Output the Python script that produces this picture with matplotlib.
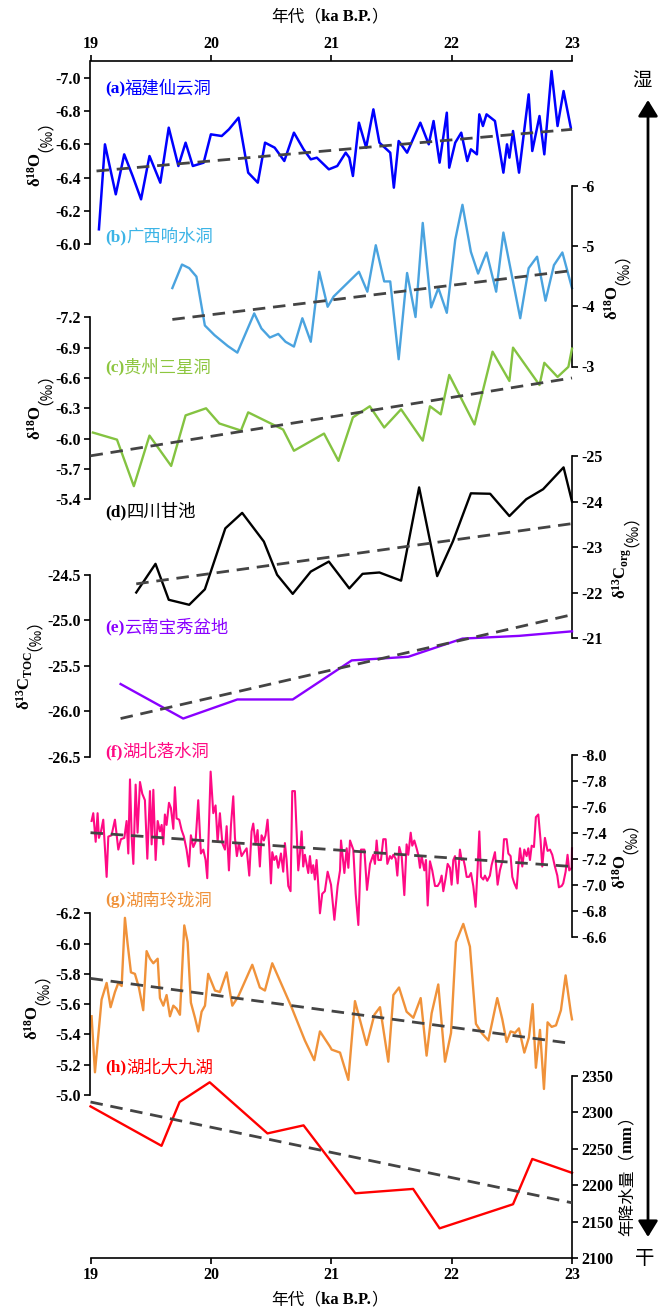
import matplotlib.pyplot as plt
from matplotlib.patches import FancyArrowPatch

# ---------------- data ----------------
age_ticks = [19, 20, 21, 22, 23]

# (a) Fujian Xianyun cave, d18O
a_age = [19.07, 19.12, 19.21, 19.28, 19.35, 19.42, 19.49, 19.58, 19.65, 19.73,
         19.79, 19.85, 19.94, 20.00, 20.09, 20.15, 20.23, 20.31, 20.39, 20.45,
         20.53, 20.61, 20.69, 20.77, 20.83, 20.88, 20.98, 21.05, 21.12, 21.15,
         21.18, 21.23, 21.29, 21.35, 21.40, 21.49, 21.52, 21.56, 21.63, 21.74,
         21.81, 21.85, 21.90, 21.96, 21.98, 22.03, 22.08, 22.13, 22.16, 22.21,
         22.23, 22.26, 22.29, 22.36, 22.43, 22.46, 22.48, 22.51, 22.56, 22.64,
         22.67, 22.73, 22.77, 22.83, 22.88, 22.93, 22.99]
a_val = [-6.09, -6.60, -6.30, -6.54, -6.41, -6.27, -6.53, -6.37, -6.70, -6.47,
         -6.61, -6.47, -6.49, -6.66, -6.65, -6.69, -6.76, -6.43, -6.37, -6.61,
         -6.58, -6.50, -6.67, -6.57, -6.51, -6.52, -6.45, -6.47, -6.55, -6.52,
         -6.41, -6.73, -6.58, -6.81, -6.61, -6.55, -6.34, -6.62, -6.55, -6.73,
         -6.60, -6.74, -6.49, -6.79, -6.46, -6.61, -6.67, -6.50, -6.57, -6.54,
         -6.78, -6.71, -6.78, -6.74, -6.43, -6.60, -6.52, -6.68, -6.43, -6.90,
         -6.56, -6.77, -6.54, -7.04, -6.71, -6.92, -6.70]
a_trend_age = [19.05, 23.0]
a_trend = [-6.44, -6.69]

# (b) Guangxi Xiangshui cave, d18O
b_age = [19.68, 19.76, 19.82, 19.88, 19.95, 20.03, 20.14, 20.22, 20.36, 20.42,
         20.49, 20.56, 20.62, 20.69, 20.76, 20.83, 20.90, 20.97, 21.02, 21.23,
         21.30, 21.37, 21.44, 21.49, 21.56, 21.63, 21.70, 21.76, 21.83, 21.89,
         21.96, 22.03, 22.09, 22.16, 22.22, 22.29, 22.37, 22.43, 22.57, 22.64,
         22.71, 22.78, 22.85, 22.92, 23.00]
b_val = [-4.30, -4.69, -4.63, -4.49, -3.68, -3.52, -3.34, -3.23, -3.88, -3.63,
         -3.48, -3.54, -3.41, -3.33, -3.80, -3.41, -4.57, -3.99, -4.16, -4.57,
         -4.24, -5.01, -4.41, -4.41, -3.12, -4.55, -3.82, -5.38, -3.98, -4.30,
         -3.89, -5.10, -5.68, -4.90, -4.54, -4.89, -4.24, -5.22, -3.80, -4.63,
         -4.82, -4.09, -4.68, -4.89, -4.30]
b_trend_age = [19.68, 23.0]
b_trend = [-3.78, -4.59]

# (c) Guizhou Sanxing cave, d18O
c_age = [19.02, 19.22, 19.36, 19.49, 19.67, 19.79, 19.96, 20.07, 20.25, 20.31,
         20.60, 20.69, 20.94, 21.06, 21.18, 21.32, 21.44, 21.58, 21.76, 21.82,
         21.91, 21.98, 22.19, 22.34, 22.48, 22.51, 22.73, 22.77, 22.88, 22.97,
         23.00]
c_val = [-6.06, -5.99, -5.53, -6.03, -5.73, -6.23, -6.30, -6.15, -6.08, -6.26,
         -6.09, -5.88, -6.05, -5.78, -6.21, -6.32, -6.11, -6.29, -5.98, -6.32,
         -6.24, -6.63, -6.14, -6.86, -6.57, -6.90, -6.53, -6.75, -6.61, -6.71,
         -6.89]
c_trend_age = [19.0, 23.0]
c_trend = [-5.83, -6.60]

# (d) Sichuan Ganchi, d13C org
d_age = [19.38, 19.54, 19.65, 19.82, 19.95, 20.12, 20.26, 20.44, 20.55, 20.68,
         20.83, 20.98, 21.15, 21.26, 21.40, 21.58, 21.73, 21.88, 22.01, 22.16,
         22.32, 22.48, 22.62, 22.76, 22.93, 23.00]
d_val = [-22.00, -22.63, -21.84, -21.73, -22.07, -23.41, -23.75, -23.12, -22.39, -21.97,
         -22.46, -22.68, -22.09, -22.41, -22.44, -22.26, -24.31, -22.36, -23.12, -24.18,
         -24.17, -23.68, -24.05, -24.27, -24.75, -24.00]
d_trend_age = [19.38, 22.99]
d_trend = [-22.19, -23.51]

# (e) Yunnan Baoxiu basin, d13C TOC
e_age = [19.25, 19.77, 20.22, 20.68, 21.17, 21.64, 22.09, 22.56, 23.00]
e_val = [-25.70, -26.08, -25.87, -25.87, -25.44, -25.40, -25.20, -25.17, -25.12]
e_trend_age = [19.25, 22.99]
e_trend = [-26.08, -24.94]

# (f) Hubei Luoshui cave, d18O
f_age = [19.009, 19.023, 19.043, 19.059, 19.070, 19.087, 19.106, 19.134, 19.148, 19.175,
         19.203, 19.231, 19.253, 19.281, 19.300, 19.314, 19.328, 19.342, 19.356, 19.375,
         19.391, 19.411, 19.430, 19.452, 19.472, 19.494, 19.508, 19.522, 19.541, 19.558,
         19.577, 19.591, 19.605, 19.618, 19.632, 19.652, 19.668, 19.688, 19.701, 19.715,
         19.737, 19.757, 19.776, 19.798, 19.818, 19.834, 19.854, 19.873, 19.895, 19.917,
         19.937, 19.956, 19.970, 19.998, 20.020, 20.039, 20.056, 20.075, 20.095, 20.117,
         20.131, 20.150, 20.167, 20.186, 20.200, 20.216, 20.233, 20.255, 20.275, 20.297,
         20.319, 20.338, 20.352, 20.371, 20.388, 20.407, 20.421, 20.440, 20.454, 20.471,
         20.485, 20.499, 20.510, 20.526, 20.543, 20.560, 20.582, 20.601, 20.615, 20.629,
         20.643, 20.662, 20.676, 20.698, 20.712, 20.726, 20.740, 20.754, 20.767, 20.781,
         20.795, 20.809, 20.823, 20.837, 20.850, 20.864, 20.878, 20.892, 20.906, 20.925,
         20.947, 20.970, 20.998, 21.026, 21.053, 21.073, 21.081, 21.109, 21.128, 21.142,
         21.156, 21.183, 21.203, 21.225, 21.247, 21.275, 21.297, 21.322, 21.349, 21.363,
         21.377, 21.391, 21.413, 21.432, 21.452, 21.466, 21.488, 21.502, 21.516, 21.535,
         21.549, 21.565, 21.585, 21.607, 21.626, 21.640, 21.660, 21.673, 21.690, 21.709,
         21.723, 21.737, 21.751, 21.773, 21.787, 21.801, 21.820, 21.839, 21.862, 21.884,
         21.903, 21.917, 21.931, 21.950, 21.967, 21.986, 22.000, 22.014, 22.028, 22.050,
         22.069, 22.083, 22.097, 22.111, 22.125, 22.144, 22.161, 22.180, 22.199, 22.216,
         22.230, 22.244, 22.263, 22.277, 22.296, 22.318, 22.332, 22.346, 22.360, 22.382,
         22.401, 22.424, 22.435, 22.457, 22.471, 22.490, 22.504, 22.521, 22.540, 22.554,
         22.568, 22.587, 22.604, 22.623, 22.637, 22.651, 22.665, 22.684, 22.700, 22.720,
         22.739, 22.753, 22.775, 22.797, 22.817, 22.836, 22.858, 22.878, 22.891, 22.914,
         22.927, 22.947, 22.963, 22.977, 22.997, 23.000]
f_val = [-7.49, -7.55, -7.33, -7.55, -7.36, -7.41, -7.50, -7.06, -7.37, -7.38,
         -7.50, -7.27, -7.35, -7.36, -7.49, -7.24, -7.81, -7.37, -7.16, -7.77,
         -7.40, -7.79, -7.70, -7.65, -7.20, -7.72, -7.31, -7.73, -7.19, -7.49,
         -7.41, -7.46, -7.31, -7.54, -7.46, -7.63, -7.59, -7.43, -7.75, -7.51,
         -7.50, -7.42, -7.37, -7.27, -7.14, -7.38, -7.29, -7.33, -7.65, -7.24,
         -7.27, -7.19, -7.05, -7.87, -7.55, -7.61, -7.33, -7.55, -7.32, -7.27,
         -7.45, -7.11, -7.46, -7.68, -7.36, -7.22, -7.32, -7.22, -7.25, -7.28,
         -7.07, -7.41, -7.47, -7.31, -7.42, -7.14, -7.38, -7.34, -7.38, -7.50,
         -7.29, -7.01, -7.25, -7.19, -7.22, -7.13, -7.24, -7.10, -7.32, -7.19,
         -6.99, -6.95, -7.72, -7.72, -7.42, -7.11, -7.24, -7.41, -7.14, -7.23,
         -7.16, -7.09, -7.22, -7.09, -7.15, -7.04, -7.19, -7.00, -6.78, -6.93,
         -6.95, -7.10, -7.00, -6.73, -6.99, -7.11, -7.34, -7.09, -7.28, -7.13,
         -7.34, -7.27, -6.93, -6.69, -7.27, -7.27, -6.96, -7.16, -7.23, -7.16,
         -7.34, -7.19, -7.19, -7.35, -7.35, -7.16, -7.22, -7.20, -7.23, -7.20,
         -7.07, -7.29, -7.22, -6.92, -7.31, -7.23, -7.40, -7.30, -7.34, -7.28,
         -7.23, -7.13, -7.22, -7.11, -7.19, -6.84, -7.18, -7.11, -6.99, -6.99,
         -7.02, -7.07, -6.95, -7.05, -7.16, -7.13, -7.00, -7.19, -7.22, -7.01,
         -7.27, -7.19, -7.20, -7.14, -7.06, -7.06, -7.09, -6.99, -6.83, -7.13,
         -7.41, -7.06, -7.04, -7.07, -7.03, -7.07, -7.15, -7.20, -7.25, -7.00,
         -7.11, -7.19, -7.35, -7.35, -7.24, -7.22, -7.06, -7.01, -6.97, -7.14,
         -7.28, -7.14, -7.27, -7.22, -7.28, -7.19, -7.30, -7.29, -7.52, -7.54,
         -7.34, -7.14, -7.36, -7.26, -7.27, -7.23, -7.14, -7.07, -6.98, -6.99,
         -7.01, -7.10, -7.23, -7.11, -7.13, -7.28]
f_trend_age = [19.0, 23.0]
f_trend = [-7.40, -7.14]

# (g) Hunan Linglong cave, d18O
g_age = [19.009, 19.037, 19.092, 19.134, 19.167, 19.203, 19.231, 19.259, 19.286, 19.308,
         19.336, 19.369, 19.402, 19.438, 19.466, 19.494, 19.522, 19.558, 19.577, 19.605,
         19.632, 19.660, 19.688, 19.715, 19.743, 19.779, 19.807, 19.834, 19.868, 19.895,
         19.923, 19.951, 19.978, 20.034, 20.075, 20.131, 20.178, 20.227, 20.344, 20.407,
         20.449, 20.510, 20.670, 20.781, 20.859, 20.906, 20.989, 21.003, 21.073, 21.142,
         21.197, 21.294, 21.358, 21.405, 21.474, 21.516, 21.563, 21.626, 21.682, 21.743,
         21.792, 21.834, 21.889, 21.945, 21.995, 22.036, 22.097, 22.152, 22.202, 22.249,
         22.305, 22.379, 22.421, 22.457, 22.490, 22.526, 22.559, 22.604, 22.642, 22.673,
         22.700, 22.734, 22.767, 22.797, 22.831, 22.867, 22.908, 22.947, 22.991, 23.000]
g_val = [-5.52, -5.15, -5.63, -5.74, -5.58, -5.68, -5.74, -5.72, -6.17, -6.00,
         -5.81, -5.80, -5.71, -5.56, -5.95, -5.90, -5.87, -5.90, -5.64, -5.59,
         -5.66, -5.52, -5.59, -5.57, -5.53, -6.12, -6.01, -5.61, -5.51, -5.42,
         -5.55, -5.59, -5.80, -5.69, -5.68, -5.81, -5.59, -5.65, -5.86, -5.71,
         -5.69, -5.87, -5.58, -5.36, -5.23, -5.42, -5.32, -5.30, -5.28, -5.10,
         -5.62, -5.33, -5.53, -5.58, -5.22, -5.66, -5.71, -5.55, -5.51, -5.64,
         -5.26, -5.54, -5.73, -5.22, -5.41, -6.01, -6.13, -5.98, -5.47, -5.41,
         -5.36, -5.64, -5.50, -5.35, -5.42, -5.41, -5.44, -5.28, -5.38, -5.60,
         -5.18, -5.43, -5.04, -5.48, -5.45, -5.46, -5.56, -5.79, -5.54, -5.50]
g_trend_age = [19.0, 23.0]
g_trend = [-5.77, -5.34]

# (h) Hubei Dajiu lake, annual precipitation
h_age = [19.00, 19.59, 19.74, 19.99, 20.47, 20.77, 21.20, 21.68, 21.90, 22.51, 22.67, 23.00]
h_val = [2308, 2254, 2314, 2341, 2271, 2282, 2189, 2195, 2141, 2174, 2236, 2217]
h_trend_age = [19.0, 23.0]
h_trend = [2314, 2176]

# ---------------- layout ----------------
W, H = 659, 1312
L, R = 90.5, 572.0
TOP, BOT = 61.0, 1258.3
SERIF = 'Liberation Serif'
CJK = 'Noto Sans CJK SC'
TREND = '#444444'
TICK_FS = 11.5

plt.rcParams['font.family'] = [SERIF, CJK]
plt.rcParams['font.weight'] = 'bold'
plt.rcParams['axes.unicode_minus'] = False
plt.rcParams['mathtext.fontset'] = 'custom'
plt.rcParams['mathtext.rm'] = SERIF + ':bold'
plt.rcParams['mathtext.it'] = SERIF + ':italic:bold'
plt.rcParams['mathtext.bf'] = SERIF + ':bold'

fig = plt.figure(figsize=(W / 100, H / 100), dpi=100)


def fx(px):
    return px / W


def fy(py):
    return 1 - py / H


ax0 = fig.add_axes([fx(L), fy(BOT), (R - L) / W, (BOT - TOP) / H])
ax0.set_xlim(19, 23)
ax0.set_ylim(0, 1)
ax0.set_yticks([])
ax0.spines['left'].set_visible(False)
ax0.spines['right'].set_visible(False)
ax0.spines['top'].set_linewidth(1.2)
ax0.spines['bottom'].set_linewidth(1.2)
ax0.set_xticks(age_ticks)
ax0.tick_params(axis='x', top=True, labeltop=True, bottom=True, labelbottom=True,
                direction='out', length=4, width=1.2, pad=2.5, labelsize=TICK_FS)


def panel(v1, y1, v2, y2, top, bottom, side, ticks, fmt):
    ax = fig.add_axes([fx(L), fy(bottom), (R - L) / W, (bottom - top) / H])
    k = (v2 - v1) / (y2 - y1)
    ax.set_ylim(v1 + (bottom - y1) * k, v1 + (top - y1) * k)
    ax.set_xlim(19, 23)
    ax.patch.set_visible(False)
    for s in ax.spines.values():
        s.set_visible(False)
    ax.spines[side].set_visible(True)
    ax.spines[side].set_linewidth(1.2)
    ax.xaxis.set_visible(False)
    ax.yaxis.set_ticks_position(side)
    ax.set_yticks(ticks)
    ax.set_yticklabels([fmt.format(t) for t in ticks])
    ax.tick_params(axis='y', direction='out', length=4, width=1.2, pad=3, labelsize=TICK_FS)
    return ax


def draw(ax, age, val, color, t_age, t_val, lw=1.7):
    ax.plot(age, val, color=color, lw=lw, clip_on=False, zorder=2)
    ax.plot(t_age, t_val, color=TREND, lw=2.0, ls=(0, (4.5, 2.8)), clip_on=False, zorder=3)


def hchain(x, y, pieces, color='black', size=12.5):
    prev = None
    for s, fam, wt in pieces:
        if prev is None:
            prev = fig.text(fx(x), fy(y), s, family=fam, weight=wt, color=color,
                            size=size, ha='left', va='center')
        else:
            prev = ax0.annotate(s, xy=(1, 0.5), xycoords=prev, family=fam, weight=wt,
                                color=color, size=size, ha='left', va='center')


def vchain(x, y, pieces, size=12):
    prev = None
    for s, fam, wt in pieces:
        if prev is None:
            prev = fig.text(fx(x), fy(y), s, family=fam, weight=wt, size=size,
                            rotation=90, ha='center', va='bottom')
        else:
            prev = ax0.annotate(s, xy=(0.5, 1), xycoords=prev, family=fam, weight=wt,
                                size=size, rotation=90, ha='center', va='bottom')


d18o = [('δ$^{18}$O', SERIF, 'bold'), ('（‰）', CJK, 'normal')]

axa = panel(-7.0, 77.7, -6.0, 244.3, TOP, 244.3, 'left',
            [-7.0, -6.8, -6.6, -6.4, -6.2, -6.0], '{:.1f}')
draw(axa, a_age, a_val, '#0000ff', a_trend_age, a_trend, lw=1.8)

axb = panel(-6, 185.5, -3, 366.5, 185.5, 366.5, 'right', [-6, -5, -4, -3], '{:.0f}')
draw(axb, b_age, b_val, '#4aa3df', b_trend_age, b_trend)

axc = panel(-7.2, 317.3, -5.4, 499.3, 317.3, 499.3, 'left',
            [-7.2, -6.9, -6.6, -6.3, -6.0, -5.7, -5.4], '{:.1f}')
draw(axc, c_age, c_val, '#84c341', c_trend_age, c_trend)

axd = panel(-25, 456, -21, 638, 456, 638, 'right', [-25, -24, -23, -22, -21], '{:.0f}')
draw(axd, d_age, d_val, 'black', d_trend_age, d_trend)

axe = panel(-24.5, 575, -26.5, 756.7, 575, 756.7, 'left',
            [-24.5, -25.0, -25.5, -26.0, -26.5], '{:.1f}')
draw(axe, e_age, e_val, '#8a00ff', e_trend_age, e_trend)

axf = panel(-8.0, 754.7, -6.6, 936.7, 754.7, 936.7, 'right',
            [-8.0, -7.8, -7.6, -7.4, -7.2, -7.0, -6.8, -6.6], '{:.1f}')
draw(axf, f_age, f_val, '#ff0a84', f_trend_age, f_trend, lw=1.5)

axg = panel(-6.2, 913.3, -5.0, 1095, 913.3, 1095, 'left',
            [-6.2, -6.0, -5.8, -5.6, -5.4, -5.2, -5.0], '{:.1f}')
draw(axg, g_age, g_val, '#f0923a', g_trend_age, g_trend)

axh = panel(2350, 1075.7, 2100, BOT, 1075.7, BOT, 'right',
            [2350, 2300, 2250, 2200, 2150, 2100], '{:.0f}')
draw(axh, h_age, h_val, '#ff0000', h_trend_age, h_trend)

# panel names
hchain(105, 89, [('(a)', SERIF, 'bold'), ('福建仙云洞', CJK, 'normal')], '#0000ff')
hchain(105, 237, [('(b)', SERIF, 'bold'), ('广西响水洞', CJK, 'normal')], '#3cb4e6')
hchain(105, 368, [('(c)', SERIF, 'bold'), ('贵州三星洞', CJK, 'normal')], '#8dc63f')
hchain(105, 512, [('(d)', SERIF, 'bold'), ('四川甘池', CJK, 'normal')], 'black')
hchain(105, 628, [('(e)', SERIF, 'bold'), ('云南宝秀盆地', CJK, 'normal')], '#8a00ff')
hchain(105, 752, [('(f)', SERIF, 'bold'), ('湖北落水洞', CJK, 'normal')], '#ff0a84')
hchain(105, 900, [('(g)', SERIF, 'bold'), ('湖南玲珑洞', CJK, 'normal')], '#f0923a')
hchain(105, 1067, [('(h)', SERIF, 'bold'), ('湖北大九湖', CJK, 'normal')], '#ff0000')

# axis titles
title = [('年代（', CJK, 'normal'), ('ka B.P.', SERIF, 'bold'), ('）', CJK, 'normal')]
hchain(271, 17, title, size=12)
hchain(271, 1300, title, size=12)

vchain(36, 187, d18o)
vchain(36, 440, d18o)
vchain(25, 710, [('δ$^{13}$C$_{\\mathrm{TOC}}$', SERIF, 'bold'), ('（‰）', CJK, 'normal')])
vchain(33, 1040, d18o)
vchain(613, 320, d18o)
vchain(622, 599, [('δ$^{13}$C$_{\\mathrm{org}}$', SERIF, 'bold'), ('（‰）', CJK, 'normal')])
vchain(621, 889, d18o)
vchain(627, 1236, [('年降水量（', CJK, 'normal'), ('mm', SERIF, 'bold'), ('）', CJK, 'normal')])

# wet / dry arrow
arrow = FancyArrowPatch((fx(648), fy(100)), (fx(648), fy(1237)), transform=fig.transFigure,
                        arrowstyle='<|-|>,head_length=0.65,head_width=0.4',
                        mutation_scale=15, color='black', lw=2, shrinkA=0, shrinkB=0)
fig.add_artist(arrow)
fig.text(fx(642), fy(80), '湿', family=CJK, weight='normal', size=14, ha='center', va='center')
fig.text(fx(645), fy(1258), '干', family=CJK, weight='normal', size=14, ha='center', va='center')

fig.savefig('out.png', dpi=100, facecolor='white')
